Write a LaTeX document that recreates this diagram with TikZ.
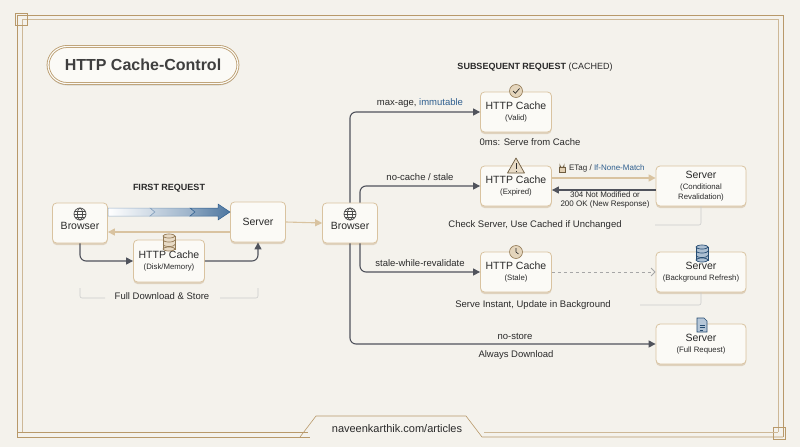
\documentclass[tikz,border=0pt]{standalone}
\usepackage{fontspec}
\setmainfont{Liberation Sans}
\usetikzlibrary{arrows.meta,shadows,calc}
\definecolor{bg}{HTML}{F4F2EC}
\definecolor{tan}{HTML}{B8996A}
\definecolor{tanl}{HTML}{D9C3A0}
\definecolor{dark}{HTML}{50535C}
\definecolor{txt}{HTML}{2A2A2A}
\definecolor{blu}{HTML}{2F5F8F}
\definecolor{nodef}{HTML}{FBFAF6}
\newcommand{\sm}{\fontsize{7.8}{9}\selectfont}
\tikzset{
 box/.style={rounded corners=4pt,draw=tanl,line width=0.8pt,fill=nodef,
   drop shadow={shadow xshift=0pt,shadow yshift=-2pt,fill=tan,opacity=0.35},
   minimum width=55pt,minimum height=40pt,align=center,font=\fontsize{10.5}{12}\selectfont,text=txt},
 wbox/.style={box,minimum width=71pt},
 sbox/.style={box,minimum width=90pt},
 darr/.style={draw=dark,line width=1.1pt,-{Triangle[length=7pt,width=7pt]},rounded corners=6pt},
 tarr/.style={draw=tanl,line width=1.1pt,-{Triangle[length=7pt,width=7pt,fill=tanl]}},
 lab/.style={font=\fontsize{9.5}{11}\selectfont,text=txt},
 brk/.style={draw=black!20,line width=0.6pt,rounded corners=2pt},
}
\newcommand{\globe}[1]{\begin{scope}[shift={#1},draw=txt!85,line width=0.7pt]
 \draw (0,0) circle (6); \draw (0,0) ellipse (2.6 and 6); \draw (-6,0)--(6,0);
 \draw (-5.2,3)--(5.2,3); \draw (-5.2,-3)--(5.2,-3);\end{scope}}
\newcommand{\dbicon}[3]{\begin{scope}[shift={#1},line width=0.7pt]
 \fill[#2,draw=#3] (-6,-6) rectangle (6,7);
 \fill[#2,draw=#3] (0,7) ellipse (6 and 2);
 \draw[#3] (-6,-2) arc (180:0:6 and 2); \draw[#3] (-6,2.5) arc (180:0:6 and 2);
 \fill[#2,draw=#3] (0,-6) ellipse (6 and 2);\end{scope}}
\begin{document}
\begin{tikzpicture}[x=1pt,y=-1pt]
\useasboundingbox (0,0) rectangle (800,447);
\fill[bg] (0,0) rectangle (800,447);
% frame
\draw[tan,line width=0.6pt] (17,437)--(17,15)--(783,15)--(783,437);
\draw[tan!70,line width=0.6pt] (22,432)--(22,19)--(778,19)--(778,432);
\draw[tan,line width=0.6pt] (15,13) rectangle (27,25) (773,427) rectangle (785,439);
\draw[tan,line width=0.6pt] (17,437)--(310,437) (17,432)--(308,432);
\draw[tan,line width=0.6pt] (300,437)--(316,416)--(466,416)--(482,437)--(783,437);
\draw[tan!70,line width=0.6pt] (484,432)--(778,432);
\node[font=\fontsize{11}{13}\selectfont,text=txt] (foot) at (397,429) {naveenkarthik.com/articles};
% title
\node[draw=tan,line width=0.8pt,double=nodef,double distance=1.2pt,rounded corners=19pt,fill=nodef,
  minimum width=190pt,minimum height=37pt,font=\bfseries\fontsize{16}{18}\selectfont,text=txt!90,
  drop shadow={shadow xshift=0pt,shadow yshift=-2pt,fill=black,opacity=0.12}] (title) at (143,65) {HTTP Cache-Control};
% headings
\node[font=\bfseries\fontsize{9}{11}\selectfont,text=txt] (h1) at (169,188) {FIRST REQUEST};
\node[font=\fontsize{9}{11}\selectfont,text=txt] (h2) at (535,67) {\textbf{SUBSEQUENT REQUEST} (CACHED)};
% first request nodes
\node[box] (b1) at (80,223) {\\[2pt]Browser};
\globe{(80,214)}
\node[box] (s1) at (258,222) {Server};
\node[wbox,minimum height=42pt] (c1) at (169,261) {HTTP Cache\\[-1pt]{\sm (Disk/Memory)}};
\dbicon{(169,242)}{tanl!60}{tan!80!black}
\node[box] (b2) at (350,223) {\\[2pt]Browser};
\globe{(350,214)}
% big arrow
\shade[left color=white,right color=blu!25,draw=blu!50,line width=0.5pt]
 (108,208)--(150,208)--(155,212)--(150,216)--(108,216)--cycle;
\shade[left color=blu!25,right color=blu!50,draw=blu!60,line width=0.5pt]
 (150,208)--(190,208)--(195,212)--(190,216)--(150,216)--(155,212)--cycle;
\shade[left color=blu!55,right color=blu!85,draw=blu,line width=0.5pt]
 (190,208)--(218,208)--(218,204)--(230,212)--(218,220)--(218,216)--(190,216)--(195,212)--cycle;
\draw[tarr] (s1.west|-0,232)--(b1.east|-0,232);
\draw[darr] (b1.south)|-(c1.west);
\draw[darr] (c1.east)-|(s1.south);
\draw[tarr] (s1.east)--(b2.west);
\draw[brk] (80,288)--(80,298)--(105,298) (220,298)--(258,298)--(258,288);
\node[lab] (fd) at (162,296) {Full Download \& Store};
% subsequent nodes
\node[wbox] (cv) at (516,112) {HTTP Cache\\[-1pt]{\sm (Valid)}};
\fill[tanl!70,draw=tan!80!black,line width=0.6pt] (516,91) circle (6.5);
\draw[txt,line width=0.7pt] (513,91)--(515.3,93.3)--(519.5,88.5);
\node[wbox] (ce) at (516,186) {HTTP Cache\\[-1pt]{\sm (Expired)}};
\fill[tanl!60,draw=tan!60!black,line width=0.7pt,line join=round] (516,158)--(524.5,173)--(507.5,173)--cycle;
\draw[txt,line width=0.9pt] (516,163)--(516,169) (516,170.6)--(516,171.4);
\node[sbox] (sc) at (701,186) {Server\\[-1pt]{\sm (Conditional}\\[-2pt]{\sm Revalidation)}};
\node[wbox] (cs) at (516,272) {HTTP Cache\\[-1pt]{\sm (Stale)}};
\fill[tanl!70,draw=tan!80!black,line width=0.6pt] (516,252) circle (6.5);
\draw[txt,line width=0.6pt] (516,248)--(516,252)--(518.5,254);
\node[sbox] (sb) at (701,272) {Server\\[-1pt]{\sm (Background Refresh)}};
\dbicon{(702,253)}{blu!40}{blu!80!black}
\node[sbox] (sf) at (701,344) {Server\\[-1pt]{\sm (Full Request)}};
\begin{scope}[shift={(702,325)}]
\fill[blu!35,draw=blu!80!black,line width=0.6pt] (-5,-7)--(2,-7)--(5,-4)--(5,7)--(-5,7)--cycle;
\draw[blu!80!black,line width=0.5pt] (-2.5,0)--(2.5,0) (-2.5,2.5)--(2.5,2.5) (-2.5,5)--(1,5);
\end{scope}
% branch arrows
\draw[darr] (b2.north-|350,203)|-(cv.west);
\draw[darr] (b2.north-|360,203)|-(ce.west);
\draw[darr] (b2.south-|360,243)|-(cs.west);
\draw[darr] (b2.south-|350,243)|-(sf.west);
\node[lab] (l1) at (420,103) {max-age, \textcolor{blu}{immutable}};
\node[lab] (l2) at (420,177) {no-cache / stale};
\node[lab] (l3) at (420,263) {stale-while-revalidate};
\node[lab] (l4) at (515,336) {no-store};
\node[lab] (l5) at (516,355) {Always Download};
\node[lab] (l6) at (530,142) {0ms: Serve from Cache};
% conditional
\draw[tarr] (ce.east|-0,178)--(sc.west|-0,178);
\draw[darr] (sc.west|-0,190)--(ce.east|-0,190);
\node[font=\fontsize{8}{9.5}\selectfont,text=txt] (et) at (604,168) {\phantom{L}\,ETag / \textcolor{blu}{If-None-Match}};
\begin{scope}[shift={(562,168)}]
\fill[tanl!80,draw=tan!60!black,line width=0.5pt] (-3.2,-0.5) rectangle (3.2,4.5);
\draw[tan!60!black,line width=0.8pt] (-2,-0.5)--(-2,-2.5) arc (180:0:2)--(2,-0.5);
\end{scope}
\node[font=\fontsize{8}{9.5}\selectfont,text=txt,align=center] (r3) at (605,200) {304 Not Modified or\\[-1pt]200 OK (New Response)};
\node[lab] (l7) at (535,225) {Check Server, Use Cached if Unchanged};
\draw[brk] (655,225)--(701,225)--(sc.south-|701,0);
% stale
\draw[draw=black!35,line width=0.8pt,dashed,-{Straight Barb[length=4pt]}] (cs.east)--(sb.west);
\node[lab] (l8) at (533,305) {Serve Instant, Update in Background};
\draw[brk] (640,305)--(701,305)--(sb.south-|701,0);
\end{tikzpicture}
\end{document}
